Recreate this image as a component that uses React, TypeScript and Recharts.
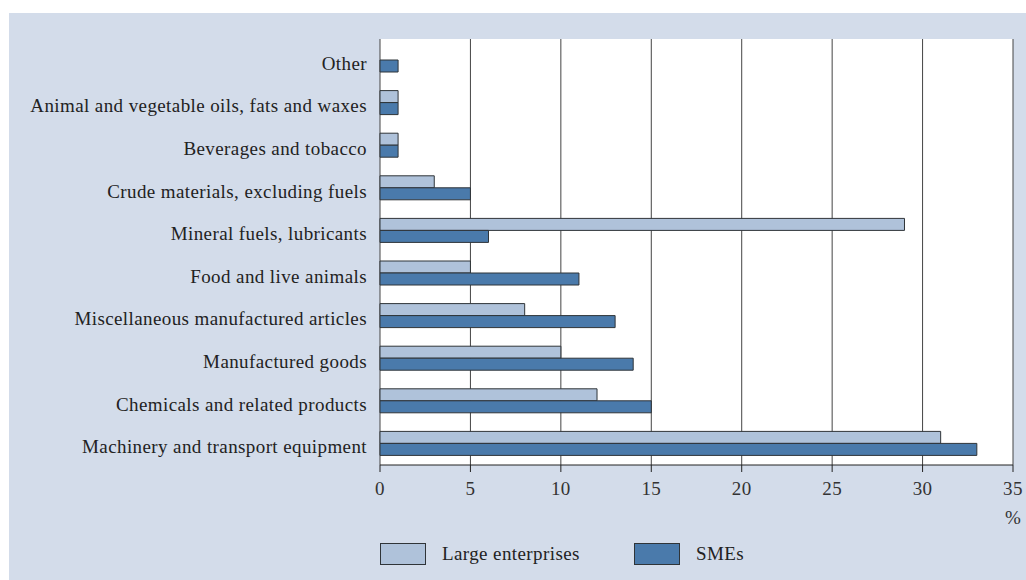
import { BarChart, Bar, XAxis, YAxis, CartesianGrid } from 'recharts';

const categories = [
  'Other',
  'Animal and vegetable oils, fats and waxes',
  'Beverages and tobacco',
  'Crude materials, excluding fuels',
  'Mineral fuels, lubricants',
  'Food and live animals',
  'Miscellaneous manufactured articles',
  'Manufactured goods',
  'Chemicals and related products',
  'Machinery and transport equipment',
];

const largeEnterprises: (number | null)[] = [null, 1, 1, 3, 29, 5, 8, 10, 12, 31];
const smes = [1, 1, 1, 5, 6, 11, 13, 14, 15, 33];

const xTicks = [0, 5, 10, 15, 20, 25, 30, 35];

const LIGHT = '#afc2da';
const DARK = '#4a7aab';
const EDGE = '#2f3438';
const FONT = '"Liberation Serif", serif';
const TEXT_STYLE = { fontFamily: FONT, fontSize: 19, letterSpacing: 0.4 };

const chartData = categories.map((name, i) => ({
  name,
  large: largeEnterprises[i],
  sme: smes[i],
}));

function LegendItem({ color, label, left }: { color: string; label: string; left: number }) {
  return (
    <div style={{ position: 'absolute', left, top: 543, display: 'flex', alignItems: 'center' }}>
      <div style={{ width: 44, height: 20, background: color, border: `1px solid ${EDGE}` }} />
      <span style={{ marginLeft: 16, ...TEXT_STYLE, color: '#222' }}>{label}</span>
    </div>
  );
}

function CategoryTick(props: any) {
  const { x, y, payload } = props;
  return (
    <text x={x} y={y} dy={3} textAnchor="end" dominantBaseline="central" fill="#222" style={TEXT_STYLE}>
      {payload.value}
    </text>
  );
}

function PercentLabel(props: any) {
  const { viewBox } = props;
  return (
    <text x={viewBox.x + viewBox.width} y={viewBox.y + 52} textAnchor="middle" dominantBaseline="central" fill="#333" style={TEXT_STYLE}>
      %
    </text>
  );
}

export default function App() {
  return (
    <div style={{ position: 'absolute', left: 0, top: 0, width: 1026, height: 580, background: '#fff', overflow: 'hidden' }}>
      <div style={{ position: 'absolute', left: 9, top: 13, width: 1017, height: 567, background: '#d3dcea' }} />
      <div style={{ position: 'absolute', left: 0, top: 0 }}>
        <BarChart
          width={1026}
          height={580}
          data={chartData}
          layout="vertical"
          margin={{ top: 39, right: 13, bottom: 85, left: 0 }}
          barSize={12}
          barGap={0}
        >
          <CartesianGrid horizontal={false} stroke="#444" fill="#ffffff" />
          <XAxis
            type="number"
            domain={[0, 35]}
            ticks={xTicks}
            interval={0}
            height={30}
            stroke="#222"
            tickSize={7}
            tickMargin={10}
            tick={{ ...TEXT_STYLE, fill: '#333' }}
            label={<PercentLabel />}
          />
          <XAxis
            xAxisId="top"
            orientation="top"
            type="number"
            domain={[0, 35]}
            height={0}
            tick={false}
            tickLine={false}
            stroke="#222"
          />
          <YAxis
            type="category"
            dataKey="name"
            width={380}
            axisLine={false}
            tickLine={false}
            tickMargin={7}
            interval={0}
            tick={<CategoryTick />}
          />
          <Bar dataKey="large" fill={LIGHT} stroke={EDGE} strokeWidth={1} isAnimationActive={false} />
          <Bar dataKey="sme" fill={DARK} stroke={EDGE} strokeWidth={1} isAnimationActive={false} />
        </BarChart>
      </div>
      <LegendItem color={LIGHT} label="Large enterprises" left={380} />
      <LegendItem color={DARK} label="SMEs" left={634} />
    </div>
  );
}
